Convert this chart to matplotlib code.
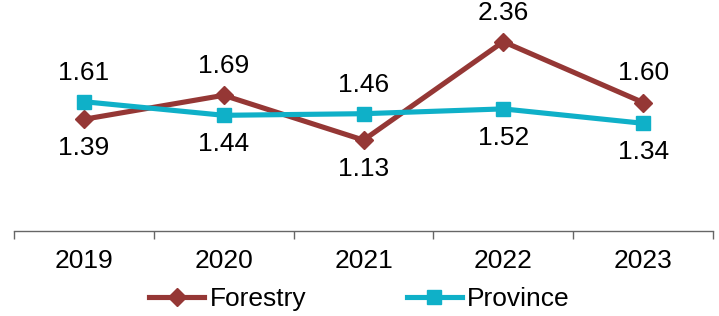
import matplotlib.pyplot as plt
from matplotlib.ticker import FixedLocator

years = ['2019', '2020', '2021', '2022', '2023']
forestry = [1.39, 1.69, 1.13, 2.36, 1.60]
province = [1.61, 1.44, 1.46, 1.52, 1.34]

RED = '#953735'
TEAL = '#0fb0c8'

plt.rcParams['font.family'] = ['Liberation Sans', 'DejaVu Sans']

fig = plt.figure(figsize=(7.19, 3.16), dpi=100)
ax = fig.add_axes([14 / 719, 1 - 230.5 / 316, 699 / 719, 224 / 316])

x = list(range(len(years)))
ax.plot(x, forestry, color=RED, lw=3.7, marker='D', ms=9,
        mec=RED, mfc=RED, label='Forestry', solid_joinstyle='round')
ax.plot(x, province, color=TEAL, lw=3.7, marker='s', ms=10,
        mec=TEAL, mfc=TEAL, label='Province', solid_joinstyle='round')

# data labels: higher value above, lower one below
off = 21
for i in x:
    for v, other in ((forestry[i], province[i]), (province[i], forestry[i])):
        dy = off if v >= other else -off
        ax.annotate(f'{v:.2f}', (i, v), xytext=(0, dy), textcoords='offset points',
                    ha='center', va='center', fontsize=19)

ax.set_xlim(-0.5, len(years) - 0.5)
ax.set_ylim(0, 2.8)
ax.set_xticks(x)
ax.set_xticklabels(years, fontsize=19)
ax.xaxis.set_minor_locator(FixedLocator([i - 0.5 for i in range(len(years) + 1)]))
ax.tick_params(axis='x', which='major', length=0, pad=13.5)
ax.tick_params(axis='x', which='minor', length=6, width=1, color='#666666', direction='out')
ax.set_yticks([])

for s in ('top', 'right', 'left'):
    ax.spines[s].set_visible(False)
ax.spines['bottom'].set_color('#666666')
ax.spines['bottom'].set_linewidth(1)

fig.legend(loc='center', bbox_to_anchor=(0.5, 1 - 299 / 316), ncol=2, frameon=False,
           fontsize=19, handlelength=2.1, handletextpad=0.2, columnspacing=3.8,
           borderaxespad=0, borderpad=0)

fig.savefig('out.png', dpi=100)
